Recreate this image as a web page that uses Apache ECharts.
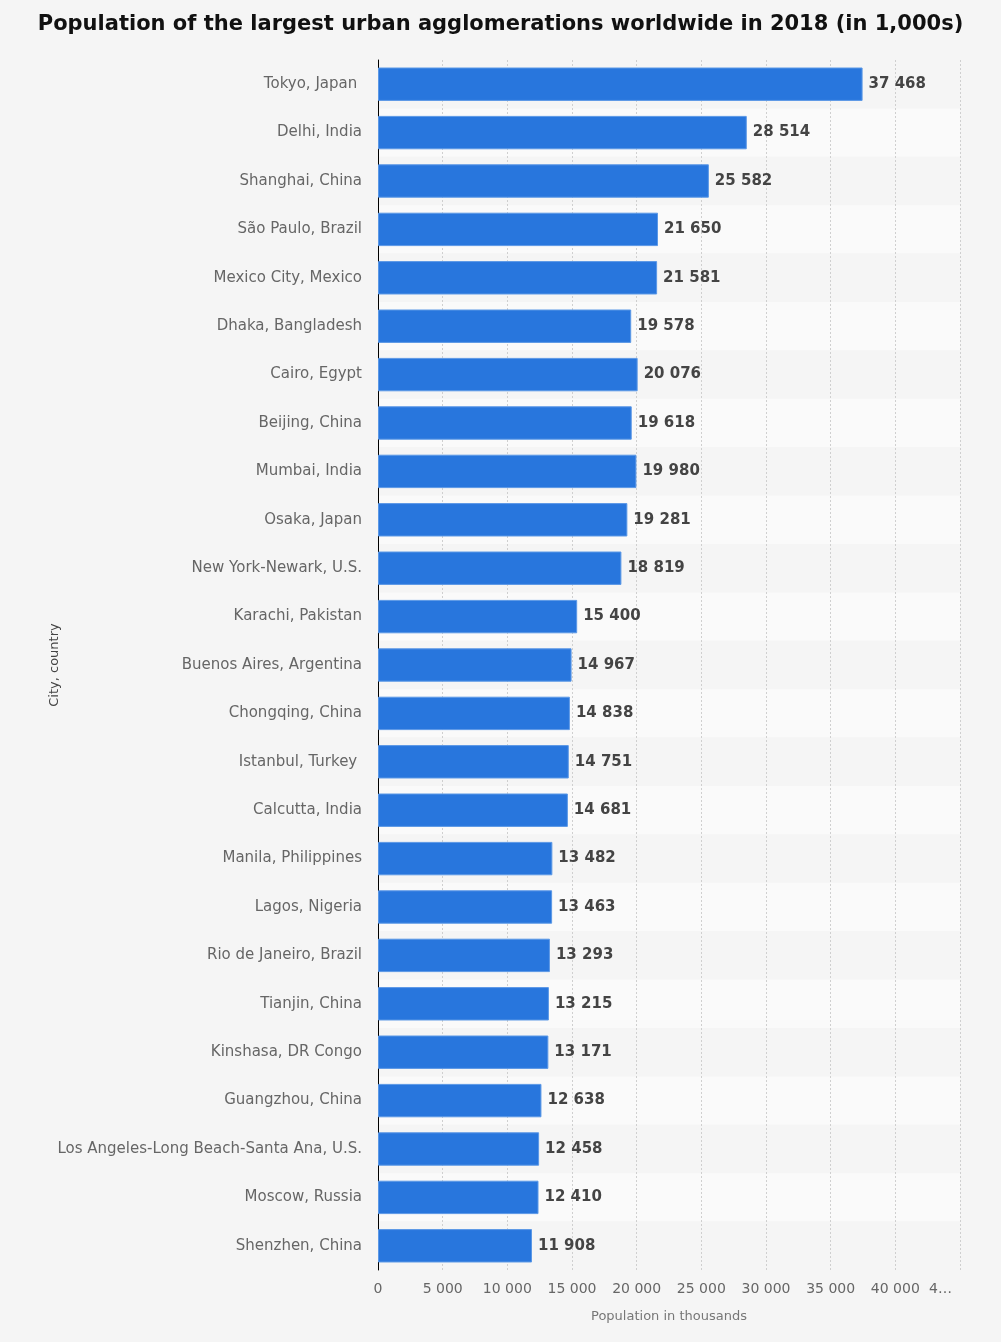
<!DOCTYPE html>
<html>
<head>
<meta charset="utf-8">
<script src="https://cdn.jsdelivr.net/npm/echarts@6/dist/echarts.min.js"></script>
<style>
html,body{margin:0;padding:0;background:#f5f5f5;}
#c{width:1001px;height:1342px;}
</style>
</head>
<body>
<div id="c"></div>
<script>
const titleText = 'Population of the largest urban agglomerations worldwide in 2018 (in 1,000s)';
const categories = [
  'Tokyo, Japan ', 'Delhi, India', 'Shanghai, China', 'São Paulo, Brazil', 'Mexico City, Mexico',
  'Dhaka, Bangladesh', 'Cairo, Egypt', 'Beijing, China', 'Mumbai, India', 'Osaka, Japan',
  'New York-Newark, U.S.', 'Karachi, Pakistan', 'Buenos Aires, Argentina', 'Chongqing, China', 'Istanbul, Turkey ',
  'Calcutta, India', 'Manila, Philippines', 'Lagos, Nigeria', 'Rio de Janeiro, Brazil', 'Tianjin, China',
  'Kinshasa, DR Congo', 'Guangzhou, China', 'Los Angeles-Long Beach-Santa Ana, U.S.', 'Moscow, Russia', 'Shenzhen, China'
];
const population = [
  37468, 28514, 25582, 21650, 21581,
  19578, 20076, 19618, 19980, 19281,
  18819, 15400, 14967, 14838, 14751,
  14681, 13482, 13463, 13293, 13215,
  13171, 12638, 12458, 12410, 11908
];
const xMin = 0, xMax = 45000, xStep = 5000;
const xAxisName = 'Population in thousands';
const yAxisName = 'City, country';

function fmt(v){ return String(v).replace(/\B(?=(\d{3})+(?!\d))/g, ' '); }

const chart = echarts.init(document.getElementById('c'), null, {renderer:'canvas'});
chart.setOption({
  backgroundColor: '#f5f5f5',
  animation: false,
  title: {
    text: titleText,
    left: 'center',
    top: 9,
    textStyle: {fontFamily: 'DejaVu Sans', fontSize: 21, fontWeight: 'bold', color: '#111'}
  },
  grid: {left: 378, right: 41, top: 60, bottom: 72, containLabel: false},
  xAxis: {
    type: 'value',
    min: xMin, max: xMax, interval: xStep,
    name: xAxisName,
    nameLocation: 'middle',
    nameGap: 40,
    nameTextStyle: {fontFamily: 'DejaVu Sans', fontSize: 13, color: '#777'},
    axisLine: {show: false},
    axisTick: {show: false},
    axisLabel: {
      fontFamily: 'DejaVu Sans', fontSize: 14, color: '#666', margin: 12,
      alignMaxLabel: 'right',
      formatter: function(v){ const s = fmt(v); return v === xMax ? '{m|' + s.charAt(0) + '…}' : s; },
      rich: {m: {fontFamily: 'DejaVu Sans', fontSize: 14, color: '#666', padding: [0, 8, 0, 0]}}
    },
    splitLine: {show: true, lineStyle: {color: '#cfcfcf', type: [2, 2], width: 1}}
  },
  yAxis: {
    type: 'category',
    inverse: true,
    data: categories,
    name: yAxisName,
    nameLocation: 'middle',
    nameGap: 317,
    nameRotate: 90,
    nameMoveOverlap: false,
    nameTextStyle: {fontFamily: 'DejaVu Sans', fontSize: 13, color: '#444'},
    axisLine: {show: true, lineStyle: {color: '#000', width: 1}},
    axisTick: {show: false},
    axisLabel: {fontFamily: 'DejaVu Sans', fontSize: 15, color: '#666', margin: 16},
    splitLine: {show: false},
    splitArea: {show: true, areaStyle: {color: ['#f5f5f5', '#fafafa']}}
  },
  series: [{
    type: 'bar',
    data: population,
    barWidth: '69%',
    itemStyle: {color: '#2876dd', borderColor: '#5b98e6', borderWidth: 1},
    label: {
      show: true, position: 'right', distance: 6,
      fontFamily: 'DejaVu Sans', fontSize: 15, fontWeight: 'bold', color: '#444',
      formatter: function(p){ return fmt(p.value); }
    }
  }]
});
</script>
</body>
</html>
